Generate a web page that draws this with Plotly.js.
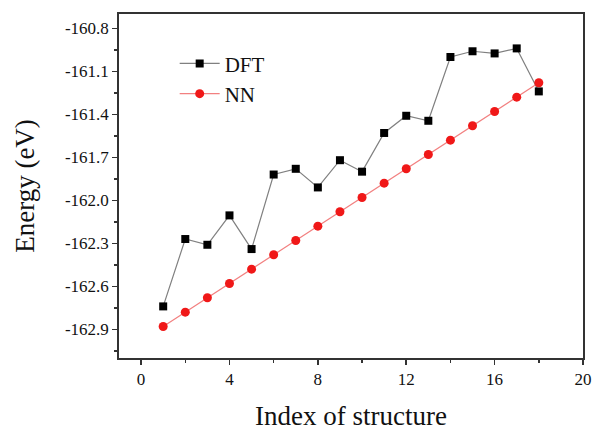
<!DOCTYPE html>
<html>
<head>
<meta charset="utf-8">
<script src="https://cdn.plot.ly/plotly-3.0.1.min.js"></script>
<style>html,body{margin:0;padding:0;background:#fff;}#chart{width:595px;height:431px;}</style>
</head>
<body>
<div id="chart"></div>
<script>
var indexValues = [1,2,3,4,5,6,7,8,9,10,11,12,13,14,15,16,17,18];
var dftEnergy = [-162.74,-162.27,-162.31,-162.105,-162.34,-161.82,-161.78,-161.91,-161.72,-161.80,-161.53,-161.41,-161.445,-161.00,-160.96,-160.975,-160.94,-161.24];
var nnEnergy = [-162.88,-162.78,-162.68,-162.58,-162.48,-162.38,-162.28,-162.18,-162.08,-161.98,-161.88,-161.78,-161.68,-161.58,-161.48,-161.38,-161.28,-161.18];
var yTickVals = [-160.8,-161.1,-161.4,-161.7,-162.0,-162.3,-162.6,-162.9];
var yTickText = ["-160.8","-161.1","-161.4","-161.7","-162.0","-162.3","-162.6","-162.9"];
var xTickVals = [0,4,8,12,16,20];
var xTickText = ["0","4","8","12","16","20"];

var font = "Liberation Serif";
var traces = [
  {x: indexValues, y: dftEnergy, name: "DFT", type: "scatter", mode: "lines+markers",
   line: {color: "#808080", width: 1.2}, marker: {symbol: "square", size: 8, color: "#000"}},
  {x: indexValues, y: nnEnergy, name: "NN", type: "scatter", mode: "lines+markers",
   line: {color: "#f28080", width: 1.2}, marker: {symbol: "circle", size: 9, color: "#f01818"}}
];
var axisCommon = {showgrid: false, zeroline: false, showline: true, linecolor: "#333", linewidth: 1.8,
  mirror: true, ticks: "outside", ticklen: 5, tickwidth: 1.6, tickcolor: "#333",
  tickfont: {family: font, size: 17, color: "#111"}};
var layout = {
  width: 595, height: 431,
  margin: {l: 119, r: 12, t: 14, b: 73},
  paper_bgcolor: "#fff", plot_bgcolor: "#fff",
  font: {family: font, color: "#111"},
  xaxis: Object.assign({}, axisCommon, {range: [-1, 20], tickmode: "array", tickvals: xTickVals, ticktext: xTickText,
    minor: {dtick: 2, tick0: 0, ticks: "outside", ticklen: 3, tickwidth: 1.4, tickcolor: "#333"},
    title: {text: "Index of structure", font: {family: font, size: 27, color: "#111"}, standoff: 18}}),
  yaxis: Object.assign({}, axisCommon, {range: [-163.1, -160.7], tickmode: "array", tickvals: yTickVals, ticktext: yTickText,
    minor: {dtick: 0.15, tick0: -160.8, ticks: "outside", ticklen: 3, tickwidth: 1.4, tickcolor: "#333"},
    title: {text: "Energy (eV)", font: {family: font, size: 27, color: "#111"}, standoff: 22}}),
  legend: {x: 0.12, y: 0.915, xanchor: "left", yanchor: "top", bgcolor: "rgba(0,0,0,0)",
    font: {family: font, size: 21, color: "#111"}, itemwidth: 40, tracegroupgap: 2},
  showlegend: true
};
Plotly.newPlot("chart", traces, layout, {displayModeBar: false, staticPlot: true});
</script>
</body>
</html>
